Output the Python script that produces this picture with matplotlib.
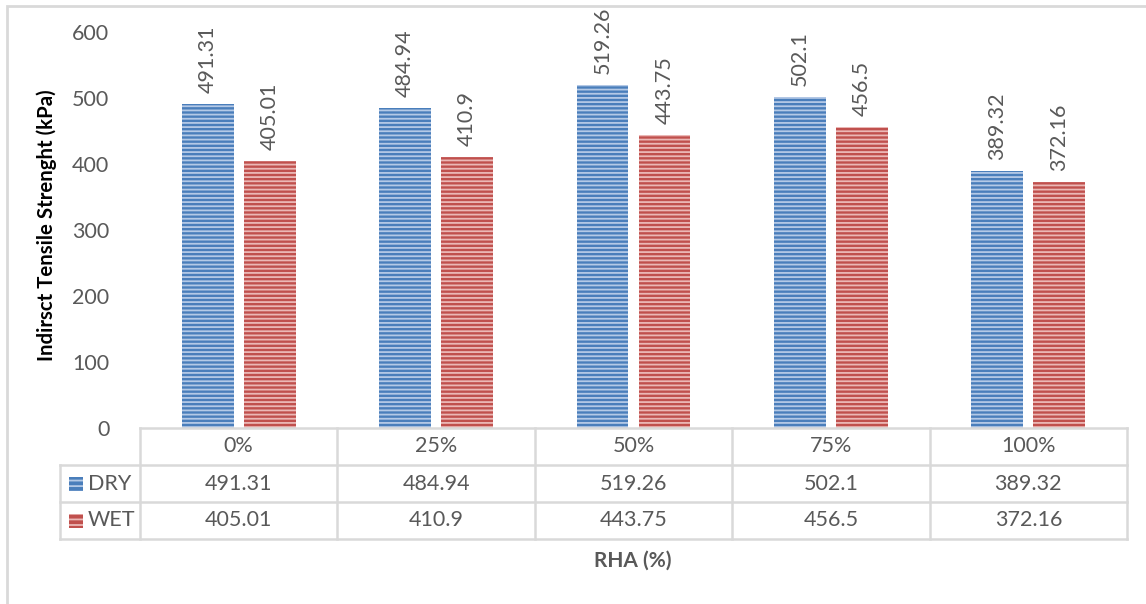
import matplotlib
matplotlib.use("Agg")
import matplotlib.pyplot as plt
from matplotlib.patches import Rectangle
from matplotlib.lines import Line2D

CATEGORIES = ["0%", "25%", "50%", "75%", "100%"]
DRY = [491.31, 484.94, 519.26, 502.1, 389.32]
WET = [405.01, 410.9, 443.75, 456.5, 372.16]
DRY_TXT = ["491.31", "484.94", "519.26", "502.1", "389.32"]
WET_TXT = ["405.01", "410.9", "443.75", "456.5", "372.16"]
SERIES = ["DRY", "WET"]
YTICKS = [0, 100, 200, 300, 400, 500, 600]

TEXT = "#595959"
GRID = "#d9d9d9"
BLUE, BLUE_H = "#4a7ebb", "#b4c9e6"
RED, RED_H = "#c0504d", "#ebb8b6"

plt.rcParams["font.family"] = ["Lato", "DejaVu Sans"]
plt.rcParams["hatch.linewidth"] = 1.3

W, H = 1146, 604
fig = plt.figure(figsize=(W / 100, H / 100), dpi=100)
# plot area in pixels: x 140..1127, y 32..428
ax = fig.add_axes([140 / W, 1 - 428 / H, 987 / W, 396 / H])

x = list(range(len(CATEGORIES)))
bw = 0.263
off = 0.157
for xs, vals, txt, fc, hc in [
    ([i - off for i in x], DRY, DRY_TXT, BLUE, BLUE_H),
    ([i + off for i in x], WET, WET_TXT, RED, RED_H),
]:
    ax.bar(xs, vals, width=bw, color=fc, edgecolor=hc, linewidth=0, hatch="----")
    for xi, v, t in zip(xs, vals, txt):
        ax.annotate(t, (xi, v), xytext=(0, 8), textcoords="offset points",
                    rotation=90, ha="center", va="bottom", fontsize=15.5,
                    color=TEXT, annotation_clip=False)

ax.set_xlim(-0.5, len(CATEGORIES) - 0.5)
ax.set_ylim(0, 600)
ax.set_yticks(YTICKS)
ax.tick_params(axis="y", length=0, labelsize=15.5, labelcolor=TEXT, pad=22)
ax.tick_params(axis="x", length=0, labelbottom=False)
for s in ax.spines.values():
    s.set_visible(False)

# data table under the axis
tr = ax.get_xaxis_transform()
rh = 37 / 396
left = -0.5 - 80 / 198
n = len(CATEGORIES)
lines = [
    ([-0.5, n - 0.5], [0, 0]),
    ([left, n - 0.5], [-rh, -rh]),
    ([left, n - 0.5], [-2 * rh, -2 * rh]),
    ([left, n - 0.5], [-3 * rh, -3 * rh]),
    ([left, left], [-rh, -3 * rh]),
]
for i in range(n + 1):
    lines.append(([i - 0.5, i - 0.5], [0, -3 * rh]))
for lx, ly in lines:
    ax.add_line(Line2D(lx, ly, transform=tr, color=GRID, lw=1.8, clip_on=False))

for i, c in enumerate(CATEGORIES):
    ax.text(i, -0.5 * rh, c, transform=tr, ha="center", va="center",
            fontsize=15.5, color=TEXT)
    ax.text(i, -1.5 * rh, DRY_TXT[i], transform=tr, ha="center", va="center",
            fontsize=15.5, color=TEXT)
    ax.text(i, -2.5 * rh, WET_TXT[i], transform=tr, ha="center", va="center",
            fontsize=15.5, color=TEXT)

key_w = 14 / 198
key_h = 14 / 396
for r, (name, fc, hc) in enumerate(zip(SERIES, [BLUE, RED], [BLUE_H, RED_H])):
    yc = -(1.5 + r) * rh
    ax.add_patch(Rectangle((left + 9 / 198, yc - key_h / 2), key_w, key_h,
                           transform=tr, facecolor=fc, edgecolor=hc, lw=0,
                           hatch="---", clip_on=False))
    ax.text(left + 28 / 198, yc, name, transform=tr, ha="left", va="center",
            fontsize=15.5, color=TEXT)

fig.text(633 / W, 1 - 561 / H, "RHA (%)", ha="center", va="center",
         fontsize=15, fontweight="bold", color=TEXT)
fig.text(47 / W, 1 - 225 / H, "Indirsct Tensile Strenght (kPa)", rotation=90,
         ha="center", va="center", fontsize=14.7, fontweight="bold", color="black")

# chart border
fig.add_artist(Rectangle((7 / W, -0.05), 1.2, 1 - 6 / H + 0.05,
                         transform=fig.transFigure, fill=False, ec=GRID, lw=2))

fig.savefig("out.png", dpi=100)
